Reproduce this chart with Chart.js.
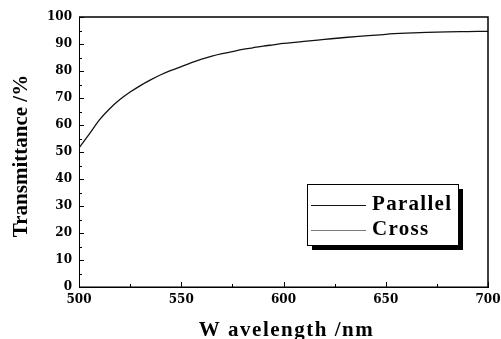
<!DOCTYPE html>
<html>
<head>
<meta charset="utf-8">
<script src="https://cdn.jsdelivr.net/npm/chart.js@4.4.1/dist/chart.umd.min.js"></script>
<style>
html,body{margin:0;padding:0;background:#fff;}
#wrap{width:501px;height:339px;position:relative;}
</style>
</head>
<body>
<div id="wrap"><canvas id="c" width="501" height="339"></canvas></div>
<script>
// ---- data ----
const wavelengths = [500,505,510,515,520,525,530,535,540,545,550,555,560,565,570,575,580,585,590,595,600,610,620,630,640,650,660,670,680,690,700];
const parallel    = [51.5,56.6,61.9,66.0,69.4,72.2,74.6,76.7,78.6,80.2,81.6,83.1,84.4,85.5,86.4,87.2,88.0,88.6,89.2,89.7,90.2,91.0,91.7,92.4,93.0,93.6,94.0,94.3,94.5,94.6,94.7];
const cross       = [0,0,0,0,0,0,0,0,0,0,0,0,0,0,0,0,0,0,0,0,0,0,0,0,0,0,0,0,0,0,0];
const seriesNames = ['Parallel','Cross'];
const xTitle = 'W avelength /nm';
const yTitle = 'Transmittance /%';
const xMajor = [500,550,600,650,700];
const xMinor = [525,575,625,675];
const yMajor = [0,10,20,30,40,50,60,70,80,90,100];
const yMinor = [5,15,25,35,45,55,65,75,85,95];

const TITLE_FONT = 'bold 21px "Liberation Serif", "Times New Roman", serif';

const decor = {
  id: 'decor',
  afterDatasetsDraw(chart) {
    const ctx = chart.ctx, a = chart.chartArea;
    const xs = chart.scales.x, ys = chart.scales.y;
    ctx.save();
    ctx.strokeStyle = '#000';
    ctx.lineWidth = 1.5;
    ctx.beginPath();
    ctx.moveTo(a.left, a.top); ctx.lineTo(a.right, a.top); ctx.lineTo(a.right, a.bottom);
    ctx.stroke();
    ctx.lineWidth = 1;
    ctx.beginPath();
    yMajor.forEach(v => { const p = Math.round(ys.getPixelForValue(v)) + 0.5; ctx.moveTo(a.left, p); ctx.lineTo(a.left + 5, p); });
    yMinor.forEach(v => { const p = Math.round(ys.getPixelForValue(v)) + 0.5; ctx.moveTo(a.left, p); ctx.lineTo(a.left + 3, p); });
    xMajor.forEach(v => { const p = Math.round(xs.getPixelForValue(v)) + 0.5; ctx.moveTo(p, a.bottom); ctx.lineTo(p, a.bottom - 5); });
    xMinor.forEach(v => { const p = Math.round(xs.getPixelForValue(v)) + 0.5; ctx.moveTo(p, a.bottom); ctx.lineTo(p, a.bottom - 3); });
    ctx.stroke();
    ctx.restore();
  },
  afterDraw(chart) {
    const ctx = chart.ctx, a = chart.chartArea;
    ctx.save();
    // axis titles
    ctx.fillStyle = '#000';
    ctx.font = TITLE_FONT;
    ctx.textAlign = 'center';
    ctx.textBaseline = 'alphabetic';
    ctx.letterSpacing = '1.5px';
    ctx.fillText(xTitle, (a.left + a.right) / 2 + 3, 336);
    ctx.letterSpacing = '0px';
    ctx.save();
    ctx.translate(27, (a.top + a.bottom) / 2 + 4);
    ctx.rotate(-Math.PI / 2);
    ctx.fillText(yTitle, 0, 0);
    ctx.restore();

    // legend box
    const bx = 307, by = 184, bw = 151, bh = 61;
    ctx.fillStyle = '#000';
    ctx.fillRect(bx + 5, by + 5, bw, bh);
    ctx.fillStyle = '#fff';
    ctx.fillRect(bx, by, bw, bh);
    ctx.strokeStyle = '#000';
    ctx.lineWidth = 1;
    ctx.strokeRect(bx + 0.5, by + 0.5, bw, bh);
    const ds = chart.data.datasets;
    const rows = [205, 230];
    ctx.textAlign = 'left';
    ctx.letterSpacing = '1.3px';
    ds.forEach((d, i) => {
      ctx.strokeStyle = d.borderColor;
      ctx.lineWidth = 1;
      ctx.beginPath();
      ctx.moveTo(311, rows[i] + 0.5); ctx.lineTo(366, rows[i] + 0.5);
      ctx.stroke();
      ctx.fillStyle = '#000';
      ctx.fillText(d.label, 372, rows[i] + 5);
    });
    ctx.restore();
  }
};

new Chart(document.getElementById('c'), {
  type: 'line',
  data: {
    datasets: [
      { label: seriesNames[0], data: wavelengths.map((w, i) => ({x: w, y: parallel[i]})),
        borderColor: '#111', borderWidth: 1.3, pointRadius: 0, cubicInterpolationMode: 'monotone', fill: false },
      { label: seriesNames[1], data: wavelengths.map((w, i) => ({x: w, y: cross[i]})),
        borderColor: '#7a7a7a', borderWidth: 2, pointRadius: 0, fill: false }
    ]
  },
  options: {
    responsive: false,
    animation: false,
    devicePixelRatio: 1,
    layout: { padding: { top: 17, right: 13, left: 0, bottom: 0 } },
    plugins: { legend: { display: false }, tooltip: { enabled: false } },
    scales: {
      x: {
        type: 'linear', min: 500, max: 700,
        afterFit(s) { s.height = 52; s.paddingLeft = 0; s.paddingRight = 0; },
        grid: { drawOnChartArea: false, drawTicks: false },
        border: { display: true, color: '#000', width: 1 },
        ticks: { stepSize: 50, padding: 6, color: '#000', font: { family: '"DejaVu Serif", serif', weight: 'bold', size: 12 } }
      },
      y: {
        min: 0, max: 100,
        afterFit(s) { s.width = 79; s.paddingTop = 0; s.paddingBottom = 0; },
        grid: { drawOnChartArea: false, drawTicks: false },
        border: { display: true, color: '#000', width: 1 },
        ticks: { stepSize: 10, padding: 7, color: '#000', font: { family: '"DejaVu Serif", serif', weight: 'bold', size: 12 } }
      }
    }
  },
  plugins: [decor]
});
</script>
</body>
</html>
